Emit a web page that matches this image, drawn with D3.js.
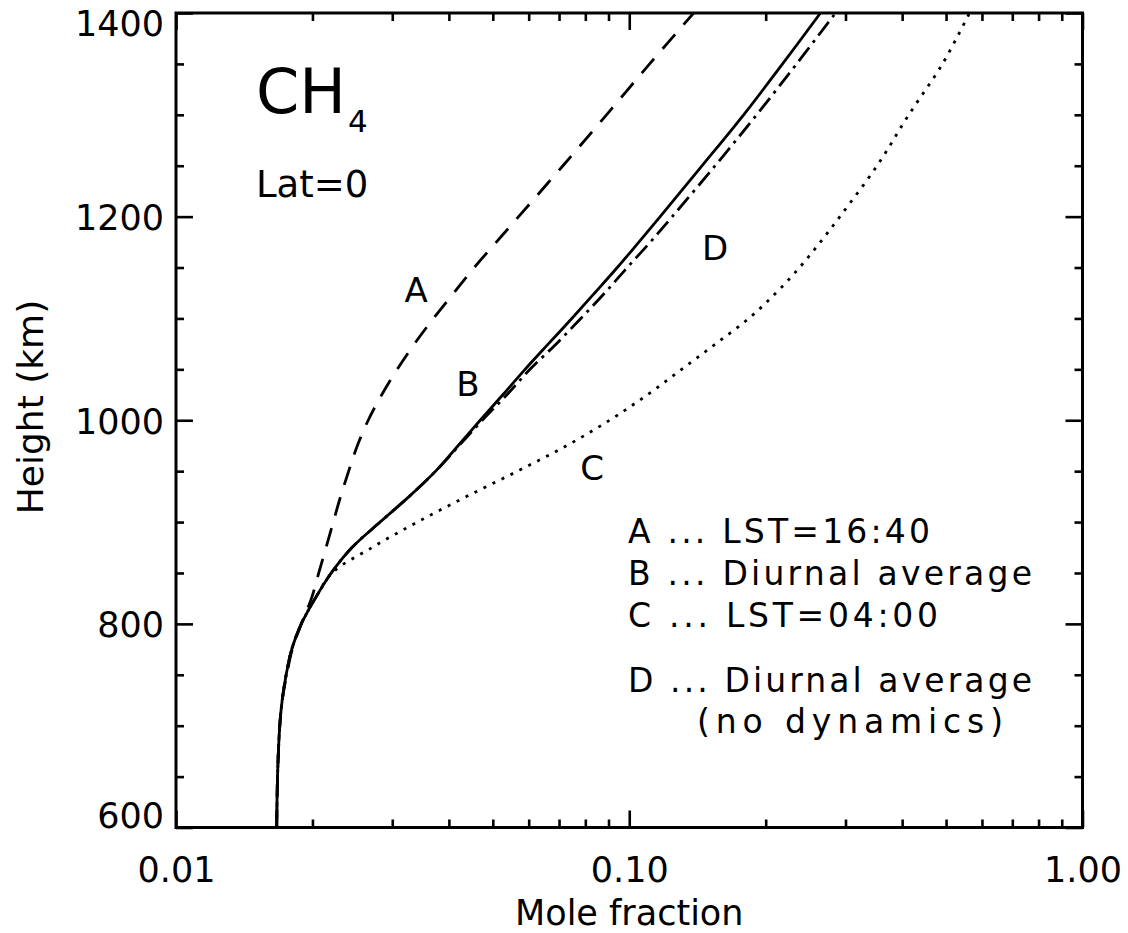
<!DOCTYPE html>
<html><head><meta charset="utf-8">
<script src="https://cdn.jsdelivr.net/npm/d3@7"></script>
<style>
html,body{margin:0;padding:0;background:#fff;}
svg text{font-family:"DejaVu Sans",sans-serif;fill:#000;}
</style></head>
<body>
<svg id="chart" width="1128" height="933"></svg>
<script>
// ---- data ----
const heights = [600,650,700,725,750,775,800,825,850,875,900,925,950,975,1000,1025,1050,1075,1100,1125,1150,1175,1200,1250,1300,1350,1400];
// A: LST=16:40 (dashed)
const seriesA = [0.01668,0.01675,0.01694,0.01715,0.01755,0.01805,0.01890,0.01990,0.02065,0.02143,0.02223,0.02307,0.02404,0.02512,0.02655,0.02844,0.03076,0.03357,0.03698,0.04100,0.04550,0.05090,0.05700,0.07140,0.08910,0.11090,0.13870];
// B: diurnal average (solid)
const seriesB = [0.01668,0.01675,0.01694,0.01715,0.01750,0.01800,0.01890,0.02028,0.02200,0.02445,0.02820,0.03267,0.03740,0.04190,0.04690,0.05260,0.05890,0.06630,0.07470,0.08390,0.09410,0.10500,0.11700,0.14480,0.17880,0.21790,0.26420];
// C: LST=04:00 (dotted)
const seriesC = [0.01668,0.01675,0.01694,0.01715,0.01750,0.01800,0.01890,0.02030,0.02210,0.02708,0.03409,0.04371,0.05669,0.07272,0.09050,0.10960,0.13050,0.15510,0.18350,0.21070,0.23750,0.26400,0.29150,0.35220,0.41370,0.49100,0.56330];
// D: diurnal average, no dynamics (dash-dot)
const seriesD = [0.01668,0.01675,0.01694,0.01715,0.01750,0.01800,0.01890,0.02028,0.02200,0.02445,0.02820,0.03267,0.03740,0.04210,0.04740,0.05370,0.06040,0.06900,0.07820,0.08830,0.09900,0.11130,0.12440,0.15470,0.19100,0.23400,0.28510];
const xMajorTicks = [0.01, 0.1, 1];
const xMinorTicks = [0.02,0.03,0.04,0.05,0.06,0.07,0.08,0.09,0.2,0.3,0.4,0.5,0.6,0.7,0.8,0.9];
const yMajorTicks = [600,800,1000,1200,1400];
const yMinorTicks = [650,700,750,850,900,950,1050,1100,1150,1250,1300,1350];
const curveLabels = [{t:"A",x:0.03385,h:1116},{t:"B",x:0.04408,h:1024},{t:"C",x:0.08276,h:941},{t:"D",x:0.1546,h:1157}];
const legendLines = ["A ... LST=16:40","B ... Diurnal average","C ... LST=04:00","D ... Diurnal average","(no dynamics)"];

// ---- layout ----
const L=176, R=1082.5, T=13, B=827.5;
const svg = d3.select("#chart");
const x = d3.scaleLog().domain([0.01,1]).range([L,R]);
const y = d3.scaleLinear().domain([600,1400]).range([B,T]);

const g = svg.append("g");
const majorLen = 17, minorLen = 8;

function styleAxis(sel){
  sel.select(".domain").remove();
  sel.selectAll(".tick line").attr("stroke","#000").attr("stroke-width",2.6);
}
// bottom
g.append("g").attr("transform",`translate(0,${B})`)
 .call(d3.axisBottom(x).tickValues(xMajorTicks).tickSize(-majorLen).tickFormat(d3.format(".2f")))
 .call(styleAxis)
 .call(s=>s.selectAll("text").attr("y",54).attr("dy",0).style("font-size","35px").style("font-family","DejaVu Sans"));
g.append("g").attr("transform",`translate(0,${B})`)
 .call(d3.axisBottom(x).tickValues(xMinorTicks).tickSize(-minorLen).tickFormat(""))
 .call(styleAxis);
// top
g.append("g").attr("transform",`translate(0,${T})`)
 .call(d3.axisTop(x).tickValues(xMajorTicks).tickSize(-majorLen).tickFormat(""))
 .call(styleAxis);
g.append("g").attr("transform",`translate(0,${T})`)
 .call(d3.axisTop(x).tickValues(xMinorTicks).tickSize(-minorLen).tickFormat(""))
 .call(styleAxis);
// left
g.append("g").attr("transform",`translate(${L},0)`)
 .call(d3.axisLeft(y).tickValues(yMajorTicks).tickSize(-majorLen).tickPadding(12).tickFormat(d3.format("d")))
 .call(styleAxis)
 .call(s=>s.selectAll("text").style("font-size","35px").style("font-family","DejaVu Sans")
   .attr("dy",null)
   .attr("y",d=> d===600 ? 0 : (d===1400 ? 22 : 13)));
g.append("g").attr("transform",`translate(${L},0)`)
 .call(d3.axisLeft(y).tickValues(yMinorTicks).tickSize(-minorLen).tickFormat(""))
 .call(styleAxis);
// right
g.append("g").attr("transform",`translate(${R},0)`)
 .call(d3.axisRight(y).tickValues(yMajorTicks).tickSize(-majorLen).tickFormat(""))
 .call(styleAxis);
g.append("g").attr("transform",`translate(${R},0)`)
 .call(d3.axisRight(y).tickValues(yMinorTicks).tickSize(-minorLen).tickFormat(""))
 .call(styleAxis);

// frame
svg.append("rect").attr("x",L).attr("y",T).attr("width",R-L).attr("height",B-T)
  .attr("fill","none").attr("stroke","#000").attr("stroke-width",3);

// curves
svg.append("clipPath").attr("id","clip").append("rect")
  .attr("x",L).attr("y",T).attr("width",R-L).attr("height",B-T);
const line = d3.line().x(d=>x(d[0])).y(d=>y(d[1])).curve(d3.curveCatmullRom.alpha(0.5));
const series = [
  {v:seriesA, dash:"19,13"},
  {v:seriesC, dash:"3,7"},
  {v:seriesD, dash:"17,6,3,6"},
  {v:seriesB, dash:null}
];
const cg = svg.append("g").attr("clip-path","url(#clip)");
series.forEach(s=>{
  cg.append("path").datum(s.v.map((v,i)=>[v,heights[i]]))
    .attr("d",line).attr("fill","none").attr("stroke","#000").attr("stroke-width",2.8)
    .attr("stroke-dasharray",s.dash);
});

// curve labels
curveLabels.forEach(c=>{
  svg.append("text").attr("x",x(c.x)).attr("y",y(c.h)).attr("text-anchor","middle")
    .style("font-size","34px").text(c.t);
});

// CH4 and Lat=0
const ch = svg.append("text").attr("x",256).attr("y",113).style("font-size","62px");
ch.append("tspan").text("CH");
ch.append("tspan").attr("dx",2).attr("dy",19).style("font-size","31px").text("4");
svg.append("text").attr("x",256).attr("y",197).style("font-size","37px").text("Lat=0");

// legend
const legX = [628,628,628,628,697];
const legY = [543,585,627,692,733];
const legW = [302,404,310,404,306];
legendLines.forEach((t,i)=>{
  svg.append("text").attr("x",legX[i]).attr("y",legY[i]).style("font-size","33px")
    .attr("textLength",legW[i]).attr("lengthAdjust","spacing").text(t);
});

// axis titles
svg.append("text").attr("x",(L+R)/2).attr("y",925).attr("text-anchor","middle")
  .style("font-size","35px").text("Mole fraction");
svg.append("text").attr("transform",`translate(43,407) rotate(-90)`).attr("text-anchor","middle")
  .style("font-size","36px").text("Height (km)");
</script>
</body></html>
